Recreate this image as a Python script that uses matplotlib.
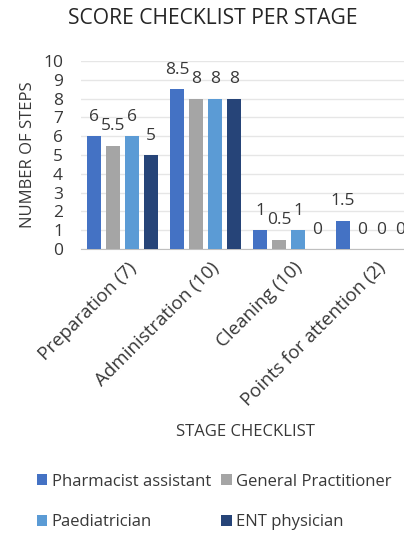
import matplotlib.pyplot as plt
import matplotlib.transforms as mtransforms
import numpy as np

plt.rcParams['font.family'] = ['Open Sans', 'DejaVu Sans']

# data
stages = ['Preparation (7)', 'Administration (10)', 'Cleaning (10)', 'Points for attention (2)']
roles = ['Pharmacist assistant', 'General Practitioner', 'Paediatrician', 'ENT physician']
pharmacist = [6, 8.5, 1, 1.5]
gp = [5.5, 8, 0.5, 0]
paediatrician = [6, 8, 1, 0]
ent = [5, 8, 0, 0]
colours = ['#4472C4', '#A5A5A5', '#5B9BD5', '#264478']

series = [pharmacist, gp, paediatrician, ent]

fig = plt.figure(figsize=(4.04, 5.34), dpi=100)
ax = fig.add_axes([81/404, (534-249)/534, 332/404, 188/534])

x = np.arange(len(stages))
pitch = 0.229
width = 0.18
txt = '#383838'

bars = []
for i, vals in enumerate(series):
    pos = x + (i - 1.5)*pitch
    b = ax.bar(pos, vals, width, color=colours[i], label=roles[i], zorder=3)
    bars.append(b)
    for p, v in zip(pos, vals):
        ax.annotate('%g' % v, (p, v), xytext=(0, 14), textcoords='offset points',
                    ha='center', va='center', fontsize=12.5, color=txt)

ax.set_xlim(-0.5, 3.5)
ax.set_ylim(0, 10)
ax.set_yticks(range(0, 11))
ax.grid(axis='y', color='#E6E6E6', lw=1, zorder=0)
for s in ['top', 'right', 'left']:
    ax.spines[s].set_visible(False)
ax.spines['bottom'].set_color('#BFBFBF')
ax.tick_params(length=0)
ax.tick_params(axis='y', labelsize=12.5, pad=13, labelcolor=txt)
ax.set_xticks(x)
ax.set_xticklabels(stages, rotation=45, ha='right', rotation_mode='anchor',
                   fontsize=13.5, color=txt)
ax.tick_params(axis='x', pad=7)
shift = mtransforms.ScaledTranslation(5/100, 0, fig.dpi_scale_trans)
for lab in ax.get_xticklabels():
    lab.set_transform(lab.get_transform() + shift)

ax.set_ylabel('NUMBER OF STEPS', fontsize=12, color=txt, va='center')
ax.yaxis.set_label_coords(-0.16, 0.5)
ax.set_xlabel('STAGE CHECKLIST', fontsize=12, color=txt, va='center')
ax.xaxis.set_label_coords(0.495, -0.975)

fig.text(213/404, 1 - 19/534, 'SCORE CHECKLIST PER STAGE', ha='center', va='center',
         fontsize=15.2, color='#262626')

# row-wise legend order: PA, GP / Paed, ENT
order = [0, 2, 1, 3]
fig.legend([bars[k] for k in order], [roles[k] for k in order],
           loc='center', bbox_to_anchor=(214/404, 1 - 502/534), ncol=2, frameon=False,
           fontsize=12, handlelength=0.65, handleheight=0.65, handletextpad=0.25,
           columnspacing=0.6, labelspacing=1.5, labelcolor=txt)

fig.savefig('out.png', dpi=100)
